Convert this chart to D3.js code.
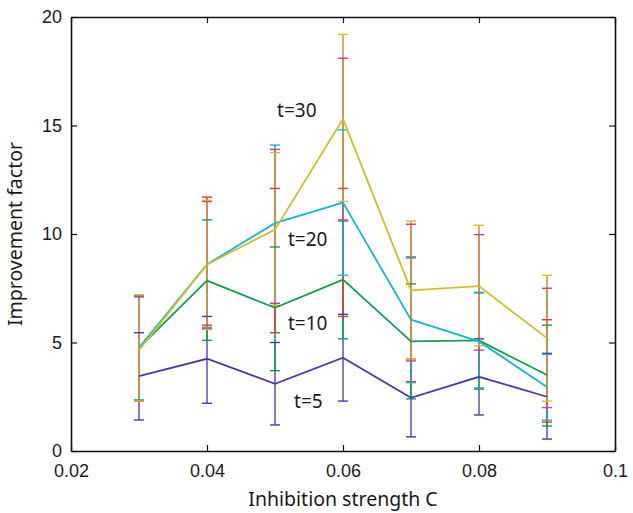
<!DOCTYPE html>
<html>
<head>
<meta charset="utf-8">
<script src="https://cdn.jsdelivr.net/npm/d3@7"></script>
<style>
  body { margin: 0; background: #fff; }
  .tick text { font-family: "Liberation Sans", Arial, sans-serif; font-size: 18px; fill: #1a1a1a; }
  .title { font-family: "Noto Sans", sans-serif; font-size: 19.5px; fill: #1a1a1a; }
  .tlabel { font-family: "Noto Sans", sans-serif; font-size: 19px; fill: #1a1a1a; }
</style>
</head>
<body>
<svg id="chart" width="633" height="513"></svg>
<script>
// inhibition strength values
var xs = [0.03, 0.04, 0.05, 0.06, 0.07, 0.08, 0.09];
var xTicks = [0.02, 0.04, 0.06, 0.08, 0.1];
var yTicks = [0, 5, 10, 15, 20];

// mean improvement factor per time
var t5  = [3.45, 4.25, 3.1, 4.3, 2.45, 3.42, 2.5];
var t10 = [4.75, 7.85, 6.6, 7.9, 5.05, 5.1, 3.5];
var t20 = [4.75, 8.6, 10.5, 11.45, 6.05, 5.05, 2.95];
var t30 = [4.65, 8.6, 10.2, 15.3, 7.4, 7.6, 5.2];

// error bar ends (low / high), one set per colour
var purpleLo  = [1.43, 2.2, 1.2, 2.3, 0.65, 1.66, 0.55];
var purpleHi  = [5.45, 6.2, 5.0, 6.3, 4.25, 5.17, 4.5];
var greenLo   = [2.35, 5.1, 3.7, 5.17, 2.4, 2.9, 1.15];
var greenHi   = [7.15, 10.65, 9.4, 10.6, 7.7, 7.3, 5.8];
var redLo     = [2.3, 5.8, 5.45, 6.2, 3.2, 2.85, 1.33];
var redHi     = [7.15, 11.7, 12.1, 12.1, 8.9, 7.3, 6.05];
var cyanLo    = [2.35, 5.7, 6.8, 8.1, 3.15, 2.85, 1.42];
var cyanHi    = [7.15, 11.5, 14.1, 14.8, 8.95, 7.3, 4.45];
var magentaLo = [2.3, 5.65, 6.8, 10.65, 4.15, 4.65, 2.0];
var magentaHi = [7.1, 11.5, 13.9, 18.1, 10.45, 9.97, 7.5];
var yellowLo  = [2.3, 5.6, 6.7, 11.5, 4.25, 4.85, 2.3];
var yellowHi  = [7.2, 11.55, 13.75, 19.2, 10.6, 10.4, 8.1];

var margin = {top: 17, right: 18, bottom: 62, left: 71};
var width = 633 - margin.left - margin.right;
var height = 513 - margin.top - margin.bottom;

var svg = d3.select('#chart')
  .append('g')
  .attr('transform', 'translate(' + margin.left + ',' + margin.top + ')');

var x = d3.scaleLinear().domain([0.02, 0.1]).range([0, width]);
var y = d3.scaleLinear().domain([0, 20]).range([height, 0]);

var errSets = [
  {lo: purpleLo, hi: purpleHi, color: '#4a3aa8', bar: '#6a5cc0'},
  {lo: greenLo, hi: greenHi, color: '#15a050', bar: '#15a050'},
  {lo: redLo, hi: redHi, color: '#e23a2e', bar: '#e23a2e'},
  {lo: cyanLo, hi: cyanHi, color: '#1ab4d4', bar: '#2aa8b8'},
  {lo: magentaLo, hi: magentaHi, color: '#cc3aa0', bar: '#c65a8a'},
  {lo: yellowLo, hi: yellowHi, color: '#d2c020', bar: '#c4a03e'}
];

var lines = [
  {vals: t5, color: '#4a3aa8'},
  {vals: t10, color: '#15a050'},
  {vals: t20, color: '#1ab4d4'},
  {vals: t30, color: '#cdbf26'}
];

// error bars, vertical parts first
errSets.forEach(function(s) {
  var g = svg.append('g');
  g.selectAll('line.v')
    .data(xs)
    .enter()
    .append('line')
    .attr('x1', function(d) { return x(d); })
    .attr('x2', function(d) { return x(d); })
    .attr('y1', function(d, i) { return y(s.lo[i]); })
    .attr('y2', function(d, i) { return y(s.hi[i]); })
    .attr('stroke', s.bar)
    .attr('stroke-width', 1.6);
});

errSets.forEach(function(s) {
  var g = svg.append('g');
  ['lo', 'hi'].forEach(function(k) {
    g.selectAll('line.c' + k)
      .data(xs)
      .enter()
      .append('line')
      .attr('x1', function(d) { return x(d) - 5; })
      .attr('x2', function(d) { return x(d) + 5; })
      .attr('y1', function(d, i) { return y(s[k][i]); })
      .attr('y2', function(d, i) { return y(s[k][i]); })
      .attr('stroke', s.color)
      .attr('stroke-width', 1.4);
  });
});

var line = d3.line()
  .x(function(d, i) { return x(xs[i]); })
  .y(function(d) { return y(d); });

lines.forEach(function(l) {
  svg.append('path')
    .datum(l.vals)
    .attr('d', line)
    .attr('fill', 'none')
    .attr('stroke', l.color)
    .attr('stroke-width', 1.8)
    .attr('stroke-linejoin', 'miter');
});

// axes, ticks inside like matlab
svg.append('g')
  .attr('transform', 'translate(0,' + height + ')')
  .call(d3.axisBottom(x).tickValues(xTicks).tickSizeInner(-6).tickSizeOuter(0).tickPadding(13)
    .tickFormat(function(d) { return d === 0.1 ? '0.1' : d3.format('.2f')(d); }));
svg.append('g')
  .call(d3.axisLeft(y).tickValues(yTicks).tickSizeInner(-6).tickSizeOuter(0).tickPadding(9));
svg.append('g')
  .call(d3.axisTop(x).tickValues(xTicks).tickSizeInner(-6).tickSizeOuter(0).tickFormat(''));
svg.append('g')
  .attr('transform', 'translate(' + width + ',0)')
  .call(d3.axisRight(y).tickValues(yTicks).tickSizeInner(-6).tickSizeOuter(0).tickFormat(''));

svg.selectAll('.domain').attr('stroke', '#111').attr('stroke-width', 1.6);
svg.selectAll('.tick line').attr('stroke', '#111').attr('stroke-width', 1.2);

svg.append('text')
  .attr('class', 'title')
  .attr('x', width / 2)
  .attr('y', height + 55)
  .attr('text-anchor', 'middle')
  .text('Inhibition strength C');

svg.append('text')
  .attr('class', 'title')
  .attr('transform', 'translate(-49,' + (height / 2) + ')rotate(-90)')
  .attr('text-anchor', 'middle')
  .text('Improvement factor');

// series labels
var labels = [
  {text: 't=30', at: 0.0503, v: 15.41},
  {text: 't=20', at: 0.0519, v: 9.46},
  {text: 't=10', at: 0.0519, v: 5.58},
  {text: 't=5', at: 0.0528, v: 1.98}
];
svg.selectAll('.tlabel')
  .data(labels)
  .enter()
  .append('text')
  .attr('class', 'tlabel')
  .attr('x', function(d) { return x(d.at); })
  .attr('y', function(d) { return y(d.v); })
  .attr('text-anchor', 'start')
  .text(function(d) { return d.text; });
</script>
</body>
</html>
